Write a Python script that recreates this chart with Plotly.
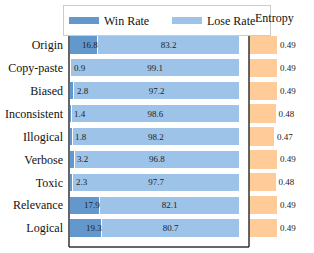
import plotly.graph_objects as go

categories = ["Origin", "Copy-paste", "Biased", "Inconsistent", "Illogical",
              "Verbose", "Toxic", "Relevance", "Logical"]
win_rate = [16.8, 0.9, 2.8, 1.4, 1.8, 3.2, 2.3, 17.9, 19.3]
lose_rate = [83.2, 99.1, 97.2, 98.6, 98.2, 96.8, 97.7, 82.1, 80.7]
entropy = [0.49, 0.49, 0.49, 0.48, 0.47, 0.49, 0.48, 0.49, 0.49]

WIN_C = "#6298cc"
LOSE_C = "#9dc3e8"
ENT_C = "#ffcc99"
FONT = "Liberation Serif"

W, H = 314, 253
ML, MT, MB = 69, 26, 6
PX_L, PX_R = 69, 249
PH = H - MT - MB
PW = W - ML
dom_split = (PX_R - ML) / PW

fig = go.Figure()
fig.add_trace(go.Bar(y=categories, x=win_rate, orientation="h", name="Win Rate",
                     marker=dict(color=WIN_C, line=dict(color="white", width=1)),
                     width=0.8, showlegend=False, xaxis="x", yaxis="y"))
fig.add_trace(go.Bar(y=categories, x=lose_rate, orientation="h", name="Lose Rate",
                     marker=dict(color=LOSE_C, line=dict(color="white", width=1)),
                     width=0.8, showlegend=False,
                     text=[f"{v:.1f}" for v in lose_rate], textposition="inside",
                     insidetextanchor="middle", textangle=0,
                     textfont=dict(family=FONT, size=9, color="#222"),
                     xaxis="x", yaxis="y"))
fig.add_trace(go.Bar(y=categories, x=entropy, orientation="h", name="Entropy",
                     marker=dict(color=ENT_C, line=dict(width=0)),
                     width=0.8, showlegend=False,
                     text=[f"{v:.2f}" for v in entropy], textposition="outside",
                     cliponaxis=False, textangle=0,
                     textfont=dict(family=FONT, size=9, color="#222"),
                     xaxis="x2", yaxis="y2"))

# legend proxies
fig.add_trace(go.Scatter(x=[None], y=[None], mode="lines", name="Win Rate",
                         line=dict(color=WIN_C, width=7), xaxis="x", yaxis="y"))
fig.add_trace(go.Scatter(x=[None], y=[None], mode="lines", name="Lose Rate",
                         line=dict(color=LOSE_C, width=7), xaxis="x", yaxis="y"))

# win labels
for c, v in zip(categories, win_rate):
    big = v > 10
    fig.add_annotation(x=v, y=c, xref="x", yref="y", text=f"{v:.1f}",
                       showarrow=False, xanchor="right" if big else "left",
                       xshift=2 if big else 1,
                       font=dict(family=FONT, size=9, color="#222"))

n = len(categories)
pad = 0.825
yr = [n - 1 + pad, -pad]
fig.update_layout(
    width=W, height=H, barmode="stack",
    margin=dict(l=ML, r=0, t=MT, b=MB, autoexpand=False),
    paper_bgcolor="white", plot_bgcolor="white",
    font=dict(family=FONT, color="#111"),
    xaxis=dict(domain=[0, dom_split], range=[0, 105.5], showgrid=False,
               showticklabels=False, zeroline=False, ticks="", automargin=False),
    yaxis=dict(range=yr, showgrid=False, ticks="", zeroline=False, automargin=False,
               ticklabelstandoff=5,
               tickfont=dict(family=FONT, size=12, color="#111")),
    xaxis2=dict(domain=[dom_split, 1], range=[0.3, 0.74], showgrid=False,
                showticklabels=False, zeroline=False, ticks="", automargin=False),
    yaxis2=dict(range=yr, anchor="x2", showgrid=False, automargin=False,
                showticklabels=False, zeroline=False, ticks=""),
    bargap=0.2,
    legend=dict(orientation="h", x=(63 - ML) / PW, y=1 + (MT - 5) / PH,
                xanchor="left", yanchor="top", bgcolor="white",
                bordercolor="#cccccc", borderwidth=1, traceorder="normal",
                font=dict(family=FONT, size=12, color="#111"),
                itemwidth=30, tracegroupgap=0, entrywidth=58),
)

# frame lines (left, bottom, right)
fc = "#333333"
for x0, x1, y0, y1 in [(0, 0, 0, 1), (0, 1, 0, 0), (1, 1, 0, 1)]:
    fig.add_shape(type="line", xref="x domain", yref="y domain",
                  x0=x0, x1=x1, y0=y0, y1=y1, line=dict(color=fc, width=1.5))

fig.add_annotation(text="Entropy", xref="paper", yref="paper",
                   x=(253 - ML) / PW, y=1 + (MT - 18) / PH,
                   xanchor="left", yanchor="middle", showarrow=False,
                   font=dict(family=FONT, size=12, color="#111"))

fig.write_html("out.html", config={"displayModeBar": False},
               post_script="document.body.style.margin='0';")
